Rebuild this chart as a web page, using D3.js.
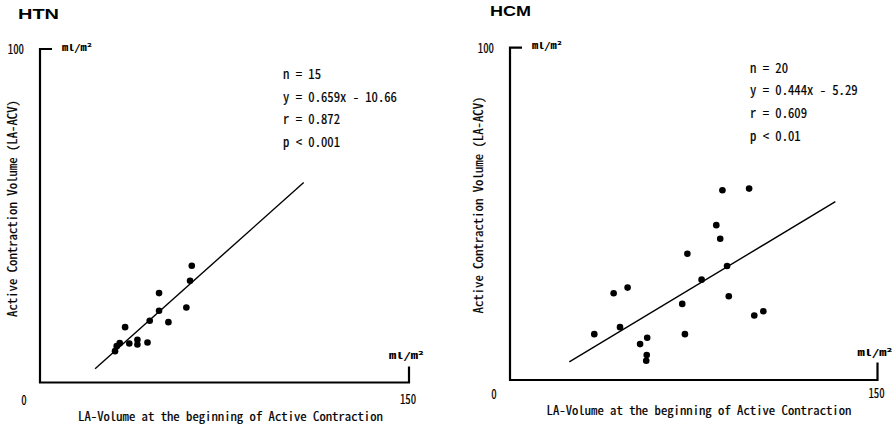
<!DOCTYPE html>
<html>
<head>
<meta charset="utf-8">
<script src="https://cdn.jsdelivr.net/npm/d3@7"></script>
<style>
  html, body { margin: 0; padding: 0; background: #fff; }
  svg { display: block; }
  .mono { font-family: "Noto Sans CJK JP", "Liberation Mono", monospace; font-feature-settings: "hwid" 1; }
</style>
</head>
<body>
<svg id="chart" width="893" height="428"></svg>
<script>
// Axis extents shared by both panels
const xDomain = [0, 150];
const yDomain = [0, 100];
const xTickLabels = ["0", "150"];
const yTickLabels = ["100"];
const unitLabel = "ml/m\u00B2";
const xTitle = "LA-Volume at the beginning of Active Contraction";
const yTitle = "Active Contraction Volume (LA-ACV)";

// HTN group
const htnName = "HTN";
const htnX = [61.7, 61.0, 48.4, 48.4, 59.5, 44.6, 52.2, 34.6, 36.3, 39.6, 39.6, 43.7, 32.4, 31.2, 30.5];
const htnY = [35.0, 30.5, 26.8, 21.5, 22.5, 18.5, 18.1, 16.6, 11.7, 12.8, 11.4, 12.0, 11.8, 10.9, 9.4];
const htnFit = { slope: 0.659, intercept: -10.66 };
const htnFitRange = [22.4, 107.2];
const htnStats = ["n = 15", "y = 0.659x - 10.66", "r = 0.872", "p < 0.001"];

// HCM group
const hcmName = "HCM";
const hcmX = [86.7, 97.6, 84.2, 85.8, 72.4, 88.6, 78.2, 48.0, 42.3, 89.3, 70.3, 99.7, 103.4, 34.4, 44.9, 71.4, 53.1, 56.0, 55.8, 55.6];
const hcmY = [57.1, 57.6, 46.6, 42.5, 38.0, 34.3, 30.2, 27.8, 26.1, 25.2, 22.9, 19.4, 20.7, 13.8, 15.9, 13.8, 10.8, 12.7, 7.5, 5.8];
const hcmFit = { slope: 0.444, intercept: -5.29 };
const hcmFitRange = [24.2, 132.8];
const hcmStats = ["n = 20", "y = 0.444x - 5.29", "r = 0.609", "p < 0.01"];

const svg = d3.select("#chart");

// Narrow fixed-pitch text: each character gets the same advance width
function monoText(g, str, x, y, o) {
  const t = g.append("text")
    .attr("class", "mono")
    .attr("x", x).attr("y", y)
    .attr("font-size", o.size)
    .attr("font-weight", o.weight || "normal")
    .attr("fill", "#000")
    .attr("stroke", o.stroke ? "#000" : null)
    .attr("stroke-width", o.stroke || null)
    .attr("text-anchor", o.anchor || "start")
    .attr("textLength", str.length * o.cw)
    .attr("lengthAdjust", "spacingAndGlyphs")
    .text(str);
  if (o.rotate) t.attr("transform", `rotate(${o.rotate},${x},${y})`);
  return t;
}

function panel(cfg) {
  const x = d3.scaleLinear().domain(xDomain).range([cfg.left, cfg.right]);
  const y = d3.scaleLinear().domain(yDomain).range([cfg.bottom, cfg.top]);
  const g = svg.append("g");

  // Title
  g.append("text")
    .attr("x", cfg.titleX).attr("y", cfg.titleY)
    .attr("font-family", "'Liberation Sans', Arial, sans-serif")
    .attr("font-weight", "bold")
    .attr("font-size", 14)
    .attr("fill", "#000")
    .attr("textLength", 41)
    .attr("lengthAdjust", "spacingAndGlyphs")
    .text(cfg.name);

  // Frame: left axis with top tick, bottom axis with right tick
  const frame = d3.path();
  frame.moveTo(x(0) + 12, y(100));
  frame.lineTo(x(0), y(100));
  frame.lineTo(x(0), y(0));
  frame.lineTo(x(150), y(0));
  frame.lineTo(x(150), y(0) - cfg.rightTick);
  g.append("path")
    .attr("d", frame.toString())
    .attr("fill", "none")
    .attr("stroke", "#000")
    .attr("stroke-width", 2.2)
    .attr("stroke-linejoin", "miter");

  // Tick values
  const tk = { size: 13, cw: 5.4, stroke: 0.2 };
  monoText(g, yTickLabels[0], x(0) - 16, y(100) + 5, { ...tk, anchor: "end" });
  monoText(g, xTickLabels[0], x(0) - 16, y(0) + cfg.tickDy, { ...tk, anchor: "middle" });
  monoText(g, xTickLabels[1], x(150) - 1, y(0) + cfg.tickDy - 1, { ...tk, anchor: "middle" });

  // Units
  monoText(g, unitLabel, x(0) + 22, y(100) + 1.5, { size: 9, cw: 6.0, weight: "bold" });
  monoText(g, unitLabel, x(150) - 20, y(0) - 24, { size: 9, cw: 7.0, weight: "bold" });

  // Axis titles
  monoText(g, xTitle, cfg.xTitleX, cfg.xTitleY, { size: 12.5, cw: 6.35, anchor: "middle", stroke: 0.2 });
  monoText(g, yTitle, cfg.yTitleX, cfg.yTitleY, { size: 12.5, cw: 6.38, anchor: "middle", rotate: -90, stroke: 0.2 });

  // Regression line
  const fy = v => cfg.fit.slope * v + cfg.fit.intercept;
  g.append("line")
    .attr("x1", x(cfg.fitRange[0])).attr("y1", y(fy(cfg.fitRange[0])))
    .attr("x2", x(cfg.fitRange[1])).attr("y2", y(fy(cfg.fitRange[1])))
    .attr("stroke", "#000")
    .attr("stroke-width", 1.4);

  // Data points
  g.selectAll("circle.pt")
    .data(d3.zip(cfg.xs, cfg.ys))
    .join("circle")
    .attr("class", "pt")
    .attr("cx", d => x(d[0]))
    .attr("cy", d => y(d[1]))
    .attr("r", 3.3)
    .attr("fill", "#000");

  // Statistics block
  cfg.stats.forEach((s, i) => {
    monoText(g, s, cfg.statsX, cfg.statsY + i * 22.6, { size: 14, cw: 6.33, stroke: 0.2 });
  });
}

panel({
  name: htnName, titleX: 18, titleY: 18.5,
  left: 40, right: 409, top: 49, bottom: 382.5, rightTick: 16,
  tickDy: 22,
  xTitleX: 230.5, xTitleY: 421, yTitleX: 16.5, yTitleY: 208.5,
  xs: htnX, ys: htnY, fit: htnFit, fitRange: htnFitRange,
  stats: htnStats, statsX: 283, statsY: 79
});

panel({
  name: hcmName, titleX: 490, titleY: 16,
  left: 510, right: 877.5, top: 47.7, bottom: 380, rightTick: 17.5,
  tickDy: 19,
  xTitleX: 699, xTitleY: 415, yTitleX: 482.5, yTitleY: 205,
  xs: hcmX, ys: hcmY, fit: hcmFit, fitRange: hcmFitRange,
  stats: hcmStats, statsX: 750, statsY: 72.7
});
</script>
</body>
</html>
